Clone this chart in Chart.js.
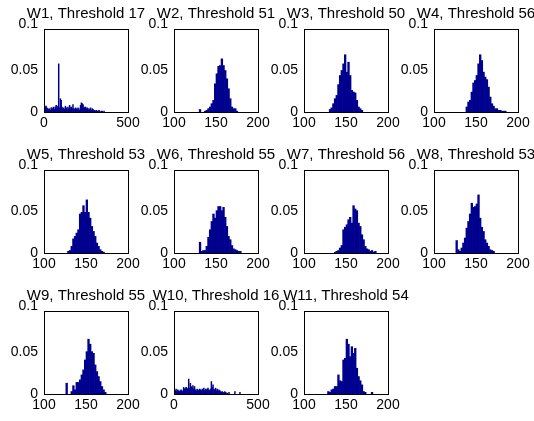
<!DOCTYPE html>
<html>
<head>
<meta charset="utf-8">
<script src="https://cdn.jsdelivr.net/npm/chart.js@4/dist/chart.umd.min.js"></script>
<style>
  html, body { margin: 0; padding: 0; background: #fff; overflow: hidden; }
  #fig { position: relative; width: 534px; height: 421px; overflow: hidden; background: #fff; }
  #fig canvas { position: absolute; }
</style>
</head>
<body>
<div id="fig"></div>
<script>
// Window thresholds shown in each panel title
const windows = ['W1','W2','W3','W4','W5','W6','W7','W8','W9','W10','W11'];
const thresholds = [17, 51, 50, 56, 53, 55, 56, 53, 55, 16, 54];

// Bin edges: narrow panels span 100-200 in steps of 2, wide panels 0-500 in steps of 5
const narrowEdges = [];
for (let b = 100; b < 200; b += 2) narrowEdges.push(b);
const wideEdges = [];
for (let b = 0; b < 500; b += 5) wideEdges.push(b);

// Normalised histogram heights, one value per bin
const w1 = [
  0.008,0.006,0.007,0.005,0.004,0.003,0.004,0.002,0.005,0.005,
  0.004,0.006,0.003,0.006,0.008,0.004,0.007,0.058,0.005,0.016,
  0.014,0.006,0.004,0.005,0.003,0.007,0.005,0.003,0.006,0.004,
  0.008,0.005,0.006,0.004,0.009,0.004,0.003,0.005,0.004,0.003,
  0.005,0.004,0.002,0.008,0.011,0.010,0.009,0.006,0.005,0.006,
  0.004,0.005,0.003,0.004,0.003,0.005,0.002,0.004,0.003,0.002,
  0.002,0.001,0.002,0.001,0.001,0.002,0.001,0,0.001,0.001,
  0,0.001,0,0,0,0,0,0,0,0,
  0,0,0,0,0,0,0,0,0,0,
  0,0,0,0,0,0,0,0,0,0
];
const w2 = [
  0,0,0,0,0,0,0,0,0,0,
  0,0,0,0,0,0.003,0,0,0.001,0.002,
  0.004,0.006,0.010,0.014,0.034,0.046,0.055,0.056,0.064,0.056,
  0.050,0.040,0.028,0.016,0.006,0.004,0.004,0.001,0,0,
  0,0,0,0,0,0,0,0,0,0
];
const w3 = [
  0,0,0,0,0,0,0,0,0,0,
  0,0,0,0,0,0.003,0.005,0.010,0.016,0.020,
  0.033,0.044,0.050,0.058,0.069,0.048,0.060,0.044,0.026,0.024,
  0.023,0.014,0.006,0.004,0.002,0,0,0,0,0,
  0,0,0,0,0,0,0,0,0,0
];
const w4 = [
  0,0,0,0,0,0,0,0,0,0,
  0,0,0,0,0,0,0,0,0,0.006,
  0.012,0.014,0.024,0.035,0.038,0.044,0.058,0.069,0.062,0.048,
  0.042,0.039,0.030,0.018,0.010,0.007,0.004,0.004,0.002,0.002,
  0.001,0.001,0.001,0,0,0,0,0,0,0
];
const w5 = [
  0,0,0,0,0,0,0,0,0,0,
  0,0,0,0,0.002,0.003,0.008,0.017,0.020,0.024,
  0.028,0.047,0.049,0.057,0.049,0.064,0.049,0.042,0.032,0.026,
  0.020,0.012,0.008,0.004,0.002,0.001,0,0,0,0,
  0,0,0,0,0,0,0,0,0,0
];
const w6 = [
  0,0,0,0,0,0,0,0,0,0,
  0,0,0,0,0,0.013,0.002,0.003,0.003,0.008,
  0.019,0.028,0.038,0.047,0.042,0.051,0.056,0.056,0.051,0.055,
  0.043,0.032,0.020,0.016,0.009,0.005,0.004,0.003,0.002,0.002,
  0,0,0,0,0,0,0,0,0,0
];
const w7 = [
  0,0,0,0,0,0,0,0,0,0,
  0,0,0,0,0,0,0,0,0.001,0.002,
  0.003,0.006,0.009,0.028,0.031,0.034,0.040,0.043,0.036,0.057,
  0.053,0.051,0.036,0.032,0.022,0.016,0.008,0.005,0.004,0.002,
  0.003,0.001,0.002,0,0,0,0,0,0,0
];
const w8 = [
  0,0,0,0,0,0,0,0,0,0,
  0,0,0,0.015,0.004,0.002,0.006,0.012,0.018,0.030,
  0.038,0.047,0.060,0.055,0.056,0.059,0.070,0.042,0.031,0.026,
  0.016,0.012,0.008,0.004,0.003,0.002,0,0,0,0,
  0,0,0,0,0,0,0,0,0,0
];
const w9 = [
  0,0,0,0,0,0,0,0,0,0,
  0,0,0,0.013,0,0,0.003,0.010,0.005,0.014,
  0.014,0.017,0.023,0.029,0.041,0.051,0.066,0.060,0.051,0.049,
  0.035,0.027,0.021,0.015,0.009,0.005,0.002,0,0,0,
  0,0,0,0,0,0,0,0,0,0
];
const w10 = [
  0.005,0.004,0.006,0.003,0.005,0.004,0.003,0.004,0.005,0.004,
  0.003,0.008,0.006,0.007,0.008,0.007,0.006,0.018,0.007,0.013,
  0.009,0.008,0.010,0.006,0.009,0.005,0.004,0.006,0.005,0.004,
  0.006,0.005,0.004,0.006,0.005,0.007,0.004,0.006,0.005,0.006,
  0.007,0.005,0.004,0.006,0.015,0.008,0.011,0.006,0.005,0.007,
  0.004,0.006,0.003,0.005,0.004,0.003,0.002,0.003,0.002,0.001,
  0.003,0.002,0.001,0.001,0,0.002,0,0,0,0,
  0,0,0.003,0,0,0,0,0,0.002,0,
  0,0,0,0,0,0,0,0,0,0,
  0,0,0,0,0,0,0,0,0,0
];
const w11 = [
  0,0,0,0,0,0,0,0,0,0,
  0,0,0,0,0.003,0.002,0.005,0.006,0.009,0.009,
  0.023,0.016,0.015,0.041,0.043,0.066,0.060,0.045,0.057,0.049,
  0.055,0.031,0.021,0.016,0.011,0.003,0.002,0,0,0,
  0.002,0,0,0,0,0,0,0,0,0
];

// Axis tick values
const narrowTicks = [100, 150, 200];
const wideTicks = [0, 500];
const yTicks = [0, 0.05, 0.1];

const series = [w1, w2, w3, w4, w5, w6, w7, w8, w9, w10, w11];
const isWide = [true, false, false, false, false, false, false, false, false, true, false];

const FONT = "'Liberation Sans', Arial, Helvetica, sans-serif";
const BAR_COLOR = 'rgb(0,0,143)';

// Subplot grid geometry: each canvas is symmetric about its plotting box
const COLS = 4;
const COL_PITCH = 130;
const ROW_TOPS = [0, 141, 282];
const CANVAS_W = 172;
const CANVAS_H = 139;
const SIDE = 44;

// Draws the closed black box around each plotting area
const boxFrame = {
  id: 'boxFrame',
  afterDatasetsDraw(chart) {
    const a = chart.chartArea;
    const ctx = chart.ctx;
    ctx.save();
    ctx.strokeStyle = '#000';
    ctx.lineWidth = 1;
    ctx.strokeRect(Math.round(a.left) + 0.5, Math.round(a.top) + 0.5,
                   Math.round(a.right - a.left), Math.round(a.bottom - a.top));
    ctx.restore();
  }
};

const fig = document.getElementById('fig');

series.forEach((vals, i) => {
  const wide = isWide[i];
  const edges = wide ? wideEdges : narrowEdges;
  const binW = wide ? 5 : 2;
  const xTicks = wide ? wideTicks : narrowTicks;
  const points = [];
  vals.forEach((v, k) => { if (v > 0) points.push({ x: edges[k] + binW / 2, y: v }); });

  const canvas = document.createElement('canvas');
  canvas.width = CANVAS_W;
  canvas.height = CANVAS_H;
  canvas.style.left = ((i % COLS) * COL_PITCH) + 'px';
  canvas.style.top = ROW_TOPS[Math.floor(i / COLS)] + 'px';
  canvas.style.width = CANVAS_W + 'px';
  canvas.style.height = CANVAS_H + 'px';
  fig.appendChild(canvas);

  new Chart(canvas, {
    type: 'bar',
    data: {
      datasets: [{
        data: points,
        backgroundColor: BAR_COLOR,
        borderWidth: 0,
        barPercentage: 1,
        categoryPercentage: 1
      }]
    },
    options: {
      responsive: false,
      animation: false,
      devicePixelRatio: 1,
      layout: { padding: { left: 0, right: 0, top: 5, bottom: 5 } },
      plugins: {
        legend: { display: false },
        tooltip: { enabled: false },
        title: {
          display: true,
          text: windows[i] + ', Threshold ' + thresholds[i],
          fullSize: true,
          align: 'center',
          color: '#000',
          font: { family: FONT, size: 15, weight: 'normal', lineHeight: 1.2 },
          padding: { top: 0, bottom: 6 }
        }
      },
      scales: {
        x: {
          type: 'linear',
          position: 'bottom',
          offset: false,
          min: xTicks[0],
          max: xTicks[xTicks.length - 1],
          grid: { display: false, drawTicks: false, offset: false },
          border: { display: false },
          afterBuildTicks(scale) { scale.ticks = xTicks.map(v => ({ value: v })); },
          ticks: {
            padding: 3,
            color: '#000',
            maxRotation: 0,
            autoSkip: false,
            font: { family: FONT, size: 14 },
            callback: v => String(v)
          },
          afterFit(scale) { scale.height = 22; scale.paddingLeft = 0; scale.paddingRight = 0; }
        },
        y: {
          position: 'left',
          min: yTicks[0],
          max: yTicks[yTicks.length - 1],
          grid: { display: false, drawTicks: false },
          border: { display: false },
          afterBuildTicks(scale) { scale.ticks = yTicks.map(v => ({ value: v })); },
          ticks: {
            padding: 6,
            color: '#000',
            font: ctx => ({ family: FONT, size: 14, lineHeight: ctx.tick && ctx.tick.value === 0.1 ? '10px' : 1.2 }),
            callback: v => (v === 0.1 ? ['0.1', ''] : String(v))
          },
          afterFit(scale) { scale.width = SIDE; scale.paddingTop = 0; scale.paddingBottom = 0; }
        },
        // Unlabelled right-hand axis keeps the box centred in its canvas
        yRight: {
          position: 'right',
          min: yTicks[0],
          max: yTicks[yTicks.length - 1],
          grid: { display: false, drawTicks: false },
          border: { display: false },
          ticks: { display: false },
          afterFit(scale) { scale.width = SIDE; scale.paddingTop = 0; scale.paddingBottom = 0; }
        }
      }
    },
    plugins: [boxFrame]
  });
});
</script>
</body>
</html>
